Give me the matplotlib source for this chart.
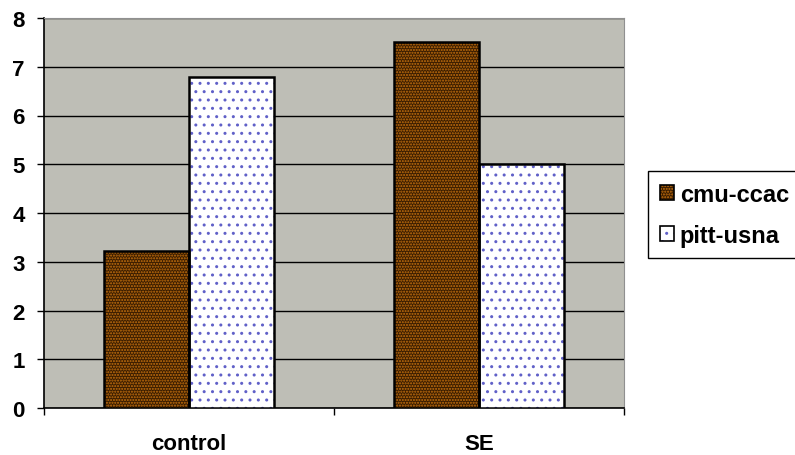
import matplotlib
matplotlib.use("Agg")
import matplotlib.pyplot as plt
from matplotlib.patches import Patch
from matplotlib.legend_handler import HandlerTuple
import numpy as np

# data
categories = ["control", "SE"]
series_names = ["cmu-ccac", "pitt-usna"]
cmu_ccac = [3.22, 7.5]
pitt_usna = [6.8, 5.0]
y_ticks = [0, 1, 2, 3, 4, 5, 6, 7, 8]

plt.rcParams['font.family'] = ['Liberation Sans', 'DejaVu Sans']
plt.rcParams['font.weight'] = 'bold'
plt.rcParams['hatch.linewidth'] = 1.0

fig = plt.figure(figsize=(7.95, 4.56), dpi=100)
ax = fig.add_axes([44 / 795, 47 / 456, 580 / 795, 390 / 456])
ax.set_facecolor('#bebeb6')

x = np.arange(len(categories))
w = 0.293

styles = [
    dict(face='#3a1d00', hatch='......', hatchcolor='#c8720e'),
    dict(face='white', hatch='..', hatchcolor='#6060c8'),
]

for vals, off, st in [(cmu_ccac, -w / 2, styles[0]), (pitt_usna, w / 2, styles[1])]:
    ax.bar(x + off, vals, w, color=st['face'], hatch=st['hatch'],
           edgecolor=st['hatchcolor'], linewidth=0, zorder=3)
    ax.bar(x + off, vals, w, fill=False, edgecolor='black', linewidth=1.8, zorder=4)

ax.set_xlim(-0.5, 1.5)
ax.set_ylim(0, 8)
ax.set_yticks(y_ticks)
ax.yaxis.grid(True, color='black', linewidth=1)
ax.set_axisbelow(True)

ax.set_xticks(x)
ax.set_xticklabels(categories)
ax.set_xticks([-0.5, 0.5, 1.5], minor=True)
ax.tick_params(axis='x', which='major', length=0, pad=18, labelsize=16)
ax.tick_params(axis='x', which='minor', length=5, width=1, color='black')
ax.tick_params(axis='y', length=5, width=1, pad=9, labelsize=16)

for s in ['top', 'right']:
    ax.spines[s].set_color('#909090')
for s in ['left', 'bottom']:
    ax.spines[s].set_color('black')
    ax.spines[s].set_linewidth(1.2)

handles = []
for st in styles:
    handles.append((Patch(facecolor=st['face'], hatch=st['hatch'], edgecolor=st['hatchcolor'], linewidth=0),
                    Patch(fill=False, edgecolor='black', linewidth=1.2)))

leg = fig.legend(handles, series_names, loc='upper left',
                 bbox_to_anchor=(648 / 795, 1 - 172 / 456),
                 handler_map={tuple: HandlerTuple(ndivide=1, pad=0)},
                 fancybox=False, edgecolor='black', framealpha=1,
                 fontsize=17, handlelength=0.6, handleheight=0.6,
                 handletextpad=0.25, labelspacing=0.75, borderpad=0.5,
                 borderaxespad=0)
leg.get_frame().set_linewidth(1)

fig.savefig("out.png", dpi=100)
